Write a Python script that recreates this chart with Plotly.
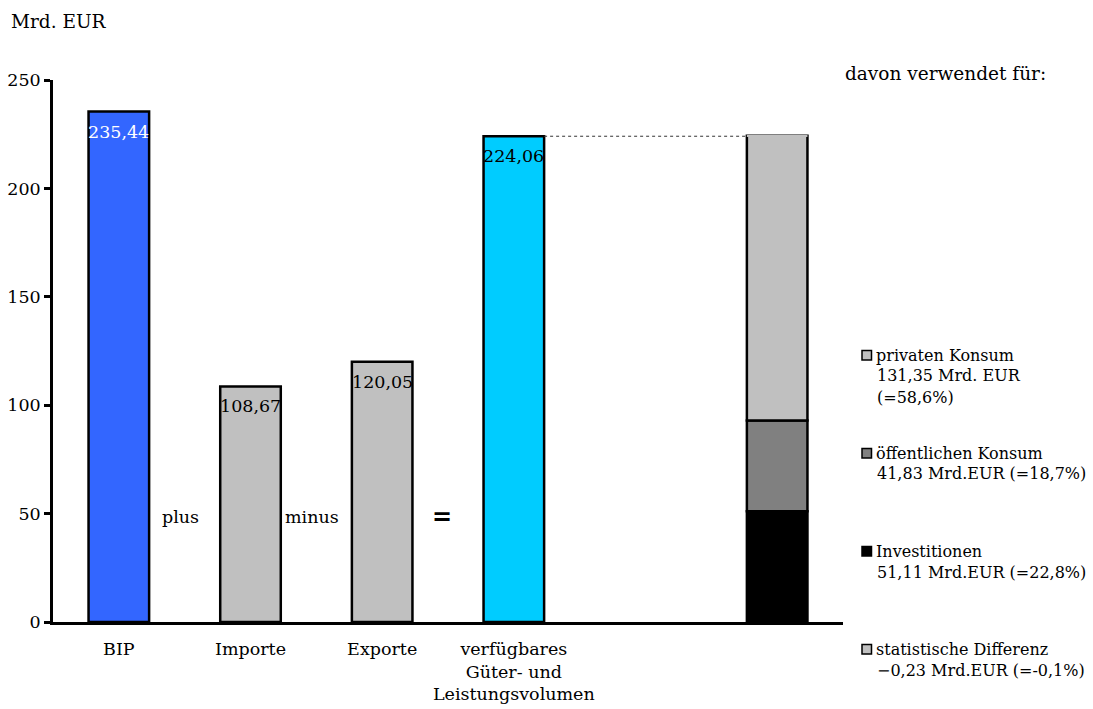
import plotly.graph_objects as go
import numpy as np

# ---- data ----
categories = ["BIP", "Importe", "Exporte", "verfügbares<br>Güter- und<br>Leistungsvolumen"]
main_values = [235.44, 108.67, 120.05, 224.06]
main_colors = ["#3366FF", "#C0C0C0", "#C0C0C0", "#00CCFF"]
label_colors = ["white", "black", "black", "black"]

components = ["Investitionen", "öffentlichen Konsum", "privaten Konsum", "statistische Differenz"]
comp_values = [51.11, 41.83, 131.35, -0.23]
comp_colors = ["#000000", "#808080", "#C0C0C0", "#C0C0C0"]

legend_order = ["privaten Konsum", "öffentlichen Konsum", "Investitionen", "statistische Differenz"]
legend_lines = {
    "privaten Konsum": ["privaten Konsum", "131,35 Mrd. EUR", "(=58,6%)"],
    "öffentlichen Konsum": ["öffentlichen Konsum", "41,83 Mrd.EUR (=18,7%)"],
    "Investitionen": ["Investitionen", "51,11 Mrd.EUR (=22,8%)"],
    "statistische Differenz": ["statistische Differenz", "−0,23 Mrd.EUR (=-0,1%)"],
}
operators = ["plus", "minus", "<b>=</b>"]

FONT = "DejaVu Serif"
FS = 17.5
LFS = 16
BW = 0.46

fig = go.Figure()

x_main = list(range(len(categories)))
fig.add_trace(go.Bar(
    x=x_main, y=main_values, width=BW,
    marker=dict(color=main_colors, line=dict(color="black", width=2.5)),
    hoverinfo="skip", showlegend=False,
))

stack_x = len(categories) + 1
bases = np.concatenate([[0], np.cumsum(comp_values)[:-1]])
for name, v, b, c in zip(components, comp_values, bases, comp_colors):
    fig.add_trace(go.Bar(
        x=[stack_x], y=[v], base=[b], width=BW, name=name,
        marker=dict(color=c, line=dict(color="black", width=2.5 if v > 0 else 0)),
        hoverinfo="skip", showlegend=False,
    ))

# value labels
for xi, v, tc in zip(x_main, main_values, label_colors):
    fig.add_annotation(x=xi, y=v, xref="x", yref="y", text=f"{v:.2f}".replace(".", ","),
                       showarrow=False, yanchor="top", yshift=-8,
                       font=dict(family=FONT, size=FS, color=tc))

# operators between bars
for i, op in enumerate(operators):
    is_eq = "=" in op
    fig.add_annotation(x=i + 0.5, y=48.5, xref="x", yref="y", text=op, showarrow=False,
                       xshift=-6 if is_eq else -4,
                       font=dict(family="DejaVu Sans" if is_eq else FONT,
                                 size=24 if is_eq else FS, color="black"))

# dotted connector
fig.add_shape(type="line", xref="x", yref="y",
              x0=x_main[-1] + BW / 2, x1=stack_x - BW / 2,
              y0=main_values[-1], y1=main_values[-1],
              line=dict(color="#333333", width=1, dash="dot"))

# custom legend
L, R_, T, B = 53, 843, 80, 622
def px(xp):
    return (xp - L) / (R_ - L)
def py(yp):
    return (B - yp) / (B - T)

fig.add_annotation(x=px(843), y=py(74), xref="paper", yref="paper", text="davon verwendet für:",
                   showarrow=False, xanchor="left", yanchor="middle",
                   font=dict(family=FONT, size=18.5, color="black"))

entry_y = [355, 453, 551, 649]
cmap = dict(zip(components, comp_colors))
for name, ey in zip(legend_order, entry_y):
    fig.add_shape(type="rect", xref="paper", yref="paper",
                  x0=px(862), x1=px(871.5), y0=py(ey - 4.5), y1=py(ey + 5),
                  fillcolor=cmap[name], line=dict(color="black", width=1.5))
    lines = legend_lines[name]
    for j, ln in enumerate(lines):
        fig.add_annotation(x=px(874 if j == 0 else 875), y=py(ey + j * 21), xref="paper", yref="paper",
                           text=ln, showarrow=False, xanchor="left", yanchor="middle",
                           font=dict(family=FONT, size=LFS, color="black"))

# y axis title
fig.add_annotation(x=px(9), y=py(22), xref="paper", yref="paper", text="Mrd. EUR",
                   showarrow=False, xanchor="left", yanchor="middle",
                   font=dict(family=FONT, size=18.5, color="black"))

fig.update_layout(
    width=1093, height=709,
    margin=dict(l=L, r=1093 - R_, t=T, b=709 - B, pad=0, autoexpand=False),
    barmode="overlay",
    plot_bgcolor="white", paper_bgcolor="white",
    font=dict(family=FONT, size=FS, color="black"),
    showlegend=False,
)
fig.update_xaxes(range=[-0.5, stack_x + 0.5], tickvals=x_main, ticktext=categories,
                 showline=True, linecolor="black", linewidth=2.5, showgrid=False,
                 ticks="", ticklabelstandoff=9, zeroline=False, fixedrange=True,
                 automargin=False)
fig.update_yaxes(range=[0, 250], tickvals=[0, 50, 100, 150, 200, 250],
                 showline=True, linecolor="black", linewidth=2.5, showgrid=False,
                 ticks="outside", ticklen=6, tickwidth=2.5, tickcolor="black",
                 zeroline=False, fixedrange=True, automargin=False)

fig.write_html("out.html")
